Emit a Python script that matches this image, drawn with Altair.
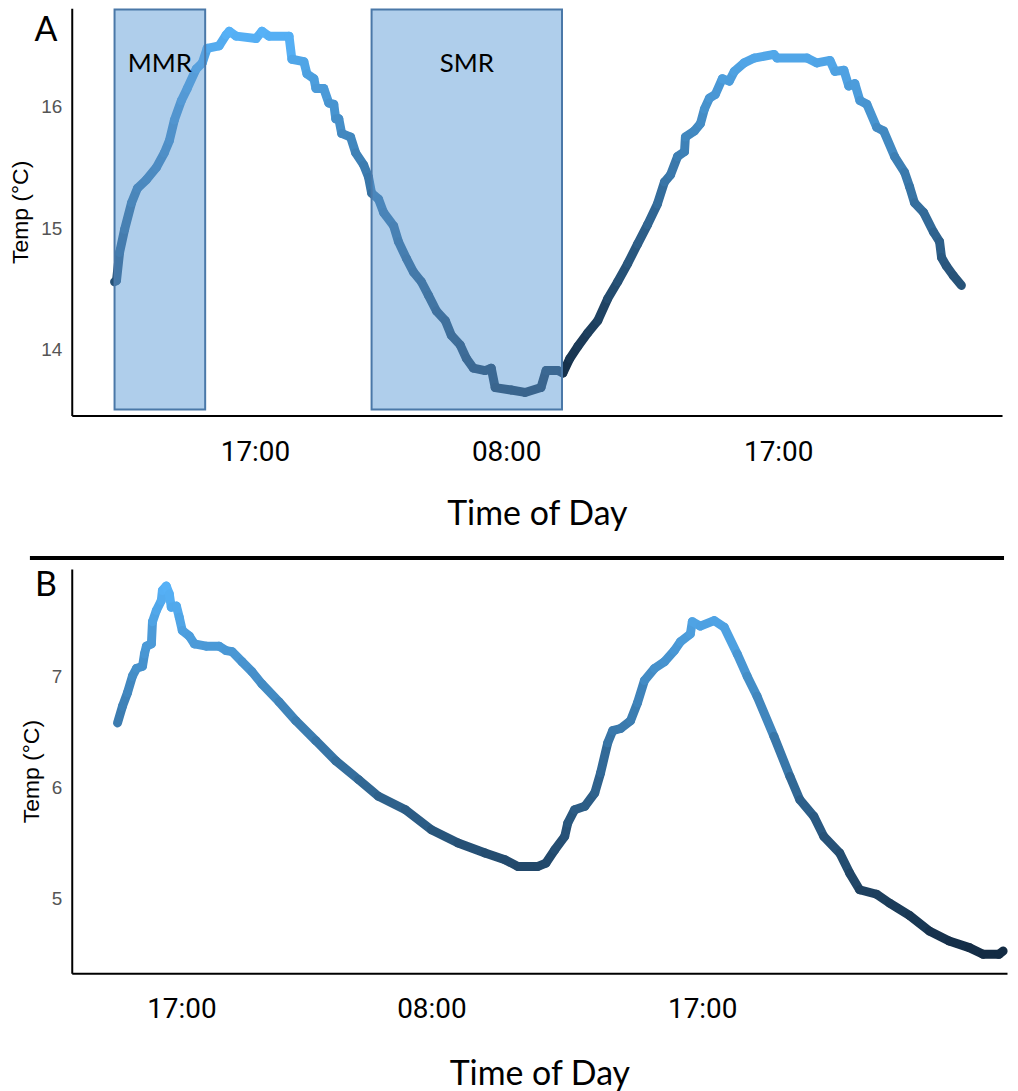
import altair as alt
import pandas as pd

# ---------------- Panel A data (hours along axis, temperature °C) ----------------
a_hours = [1.96, 2.05, 2.19, 2.42, 2.74, 3.01, 3.42, 3.88, 4.24, 4.47, 4.70, 5.02, 5.29, 5.70,
           5.98, 6.20, 6.75, 7.07, 7.21, 7.53, 8.44, 8.71, 9.03, 9.95, 10.08, 10.63, 10.77,
           11.09, 11.18, 11.54, 11.77, 12.00, 12.09, 12.23, 12.36, 12.77, 13.00, 13.37, 13.59,
           13.73, 14.05, 14.28, 14.74, 14.96, 15.33, 15.65, 16.01, 16.33, 16.70, 17.11, 17.38,
           17.79, 18.07, 18.39, 18.93, 19.21, 19.39, 20.12, 20.76, 21.49, 21.72, 22.26, 22.49,
           22.81, 23.18, 23.63, 24.09, 24.54, 25.00, 25.46, 25.91, 26.37, 26.82, 27.14, 27.42,
           27.74, 28.06, 28.10, 28.51, 28.79, 28.97, 29.20, 29.47, 29.79, 30.11, 30.34, 30.79,
           31.25, 32.16, 32.30, 33.67, 34.12, 34.72, 34.95, 35.36, 35.58, 35.86, 36.09, 36.41,
           36.86, 37.18, 37.68, 38.14, 38.37, 38.59, 39.01, 39.46, 39.74, 39.83, 40.05, 40.37,
           40.74]
a_temp = [14.56, 14.57, 14.80, 14.99, 15.21, 15.33, 15.40, 15.50, 15.62, 15.72, 15.89, 16.05,
          16.15, 16.31, 16.36, 16.48, 16.50, 16.59, 16.62, 16.58, 16.56, 16.62, 16.58, 16.58,
          16.39, 16.37, 16.27, 16.23, 16.15, 16.15, 16.03, 16.02, 15.90, 15.90, 15.78, 15.75,
          15.62, 15.52, 15.42, 15.29, 15.24, 15.13, 15.02, 14.89, 14.75, 14.64, 14.56, 14.45,
          14.32, 14.24, 14.12, 14.04, 13.93, 13.85, 13.83, 13.85, 13.69, 13.67, 13.65, 13.69,
          13.83, 13.83, 13.81, 13.93, 14.03, 14.14, 14.24, 14.42, 14.56, 14.71, 14.87, 15.03,
          15.20, 15.38, 15.44, 15.59, 15.63, 15.75, 15.80, 15.86, 15.98, 16.07, 16.10, 16.23,
          16.21, 16.29, 16.36, 16.40, 16.43, 16.40, 16.40, 16.36, 16.38, 16.29, 16.30, 16.17,
          16.19, 16.05, 16.02, 15.83, 15.80, 15.59, 15.46, 15.34, 15.21, 15.13, 14.97, 14.89,
          14.76, 14.69, 14.61, 14.53]

# ---------------- Panel B data ----------------
b_hours = [2.12, 2.35, 2.58, 2.81, 3.00, 3.28, 3.37, 3.46, 3.69, 3.74, 3.92, 4.15, 4.20, 4.38,
           4.52, 4.61, 4.85, 4.98, 5.12, 5.45, 5.68, 6.23, 6.83, 7.15, 7.43, 7.89, 8.35, 8.81,
           9.60, 10.38, 11.31, 12.23, 13.29, 14.21, 15.46, 16.66, 17.90, 19.15, 20.07, 20.67,
           21.60, 21.97, 22.38, 22.84, 22.98, 23.30, 23.77, 24.23, 24.50, 24.83, 25.06, 25.43,
           25.89, 26.21, 26.53, 27.00, 27.46, 27.92, 28.20, 28.66, 28.75, 29.12, 29.76, 30.23,
           30.83, 31.29, 31.75, 32.53, 33.27, 33.73, 34.38, 34.84, 35.58, 36.04, 36.50, 37.29,
           37.89, 38.81, 39.73, 40.65, 41.58, 42.22, 42.96, 43.15]
b_temp = [6.58, 6.73, 6.85, 7.00, 7.07, 7.09, 7.20, 7.27, 7.29, 7.49, 7.59, 7.68, 7.77, 7.81,
          7.74, 7.62, 7.63, 7.53, 7.41, 7.36, 7.29, 7.27, 7.27, 7.23, 7.22, 7.13, 7.04, 6.93,
          6.77, 6.60, 6.42, 6.24, 6.07, 5.92, 5.80, 5.62, 5.50, 5.41, 5.35, 5.29, 5.29, 5.32,
          5.44, 5.56, 5.68, 5.80, 5.83, 5.95, 6.13, 6.40, 6.51, 6.53, 6.60, 6.76, 6.96, 7.07,
          7.13, 7.23, 7.31, 7.38, 7.49, 7.45, 7.50, 7.44, 7.20, 7.00, 6.82, 6.46, 6.10, 5.89,
          5.74, 5.56, 5.41, 5.23, 5.08, 5.04, 4.96, 4.85, 4.71, 4.62, 4.56, 4.50, 4.50, 4.53]

# ---------------- Axes / annotations ----------------
a_tick_hours = [8.39, 19.89, 32.35]
b_tick_hours = [5.08, 16.66, 29.21]
tick_labels = ["17:00", "08:00", "17:00"]
a_temp_ticks = [14, 15, 16]
b_temp_ticks = [5, 6, 7]
a_x_domain = [0, 42.6]
b_x_domain = [0, 43.33]
a_y_domain = [13.46, 16.81]
b_y_domain = [4.329, 7.964]

region_names = ["MMR", "SMR"]
region_start = [1.96, 13.73]
region_end = [6.11, 22.45]
region_low = 13.51
region_high = 16.80
region_label_temp = 16.35

LOW, HIGH = "#132B43", "#56B1F7"
TICK_FONT = "Roboto"
SANS = "Liberation Sans"
TITLE_FONT = "Lato"


def segments(h, t):
    return pd.DataFrame({"t0": h[:-1], "t1": h[1:], "y0": t[:-1], "y1": t[1:], "temp": t[:-1]})


def label_expr(vals, labels):
    expr = "''"
    for v, l in reversed(list(zip(vals, labels))):
        expr = f"abs(datum.value - {v}) < 0.01 ? '{l}' : ({expr})"
    return expr


def x_axis(vals, lp, tp):
    return alt.Axis(values=vals, labelExpr=label_expr(vals, tick_labels), title="Time of Day",
                    ticks=False, grid=False, domainColor="black", domainWidth=2,
                    labelFont=TICK_FONT, labelFontSize=28, labelColor="black", labelPadding=lp,
                    labelFlush=False, labelOverlap=False,
                    titleFont=TITLE_FONT, titleFontSize=34, titleFontWeight="normal",
                    titleColor="black", titlePadding=tp)


def y_axis(vals):
    return alt.Axis(values=vals, format="d", title="Temp (°C)", ticks=False, grid=False,
                    domainColor="black", domainWidth=2, labelFont=SANS, labelFontSize=19,
                    labelColor="#555555", labelPadding=10, titleFont=SANS, titleFontSize=23,
                    titleFontWeight="normal", titleColor="black", titlePadding=8)


def temp_line(h, t, xdom, ydom, xticks, yticks, lp, tp):
    seg = segments(h, t)
    return alt.Chart(seg).mark_rule(strokeWidth=9, strokeCap="round").encode(
        x=alt.X("t0:Q", scale=alt.Scale(domain=xdom, nice=False, zero=False),
                axis=x_axis(xticks, lp, tp)),
        x2="t1:Q",
        y=alt.Y("y0:Q", scale=alt.Scale(domain=ydom, nice=False, zero=False),
                axis=y_axis(yticks)),
        y2="y1:Q",
        color=alt.Color("temp:Q", legend=None,
                        scale=alt.Scale(domain=[min(t), max(t)], range=[LOW, HIGH],
                                        interpolate="lab")),
    )


def panel_label(letter, x, y):
    return alt.Chart(pd.DataFrame({"panel": [letter]})).mark_text(
        font=TITLE_FONT, fontSize=34, color="black", align="center", baseline="alphabetic"
    ).encode(text="panel:N", x=alt.value(x), y=alt.value(y))


# ---------------- Panel A ----------------
line_a = temp_line(a_hours, a_temp, a_x_domain, a_y_domain, a_tick_hours, a_temp_ticks, 23, 31)
regions = pd.DataFrame({"name": region_names, "start": region_start, "end": region_end})
rect_a = alt.Chart(regions).mark_rect(
    fill="#609dd8", fillOpacity=0.5, stroke="#4a78a8", strokeWidth=2
).encode(x="start:Q", x2="end:Q", y=alt.datum(region_low), y2=alt.datum(region_high))
text_a = alt.Chart(regions).transform_calculate(mid="(datum.start + datum.end) / 2").mark_text(
    font=TITLE_FONT, fontSize=26, color="black", baseline="middle", align="center"
).encode(x="mid:Q", y=alt.datum(region_label_temp), text="name:N")

top = alt.layer(line_a, rect_a, text_a, panel_label("A", -26, 33)).properties(width=934, height=409)

# ---------------- Panel B ----------------
line_b = temp_line(b_hours, b_temp, b_x_domain, b_y_domain, b_tick_hours, b_temp_ticks, 22, 35)
sep = alt.Chart(pd.DataFrame({"k": [0]})).mark_rule(color="black", strokeWidth=4).encode(
    x=alt.value(-42), x2=alt.value(936), y=alt.value(-11))

bottom = alt.layer(line_b, sep, panel_label("B", -26, 27)).properties(width=939, height=406)

chart = alt.vconcat(top, bottom, spacing=154, bounds="flush").resolve_scale(
    color="independent", x="independent", y="independent"
).properties(
    padding={"left": 1, "top": -2, "right": 2, "bottom": 5}
).configure_view(strokeWidth=0)

chart.save("out.html", embed_options={"renderer": "svg", "actions": False})
